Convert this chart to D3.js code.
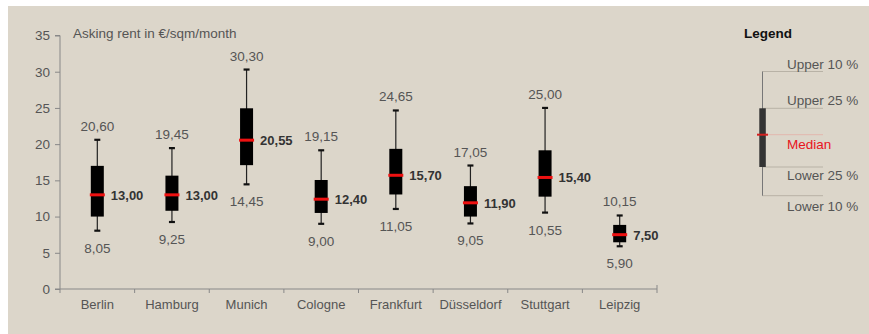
<!DOCTYPE html>
<html><head><meta charset="utf-8">
<script src="https://cdn.jsdelivr.net/npm/d3@7"></script>
<style>
html,body{margin:0;padding:0;background:#fff;}
svg{display:block;font-family:"Liberation Sans",Arial,sans-serif;}
</style></head>
<body>
<svg id="chart" width="869" height="334"></svg>
<script>
const cities = ["Berlin","Hamburg","Munich","Cologne","Frankfurt","Düsseldorf","Stuttgart","Leipzig"];
const lower10 = [8.05, 9.25, 14.45, 9.00, 11.05, 9.05, 10.55, 5.90];
const lower25 = [10.0, 10.8, 17.1, 10.5, 13.05, 10.0, 12.75, 6.45];
const medians = [13.00, 13.00, 20.55, 12.40, 15.70, 11.90, 15.40, 7.50];
const upper25 = [17.0, 15.65, 24.95, 15.05, 19.35, 14.2, 19.15, 8.85];
const upper10 = [20.60, 19.45, 30.30, 19.15, 24.65, 17.05, 25.00, 10.15];
const yTicks = [0,5,10,15,20,25,30,35];
const legendLabels = ["Upper 10 %","Upper 25 %","Median","Lower 25 %","Lower 10 %"];

const fmt = v => d3.format(".2f")(v).replace(".", ",");
const svg = d3.select("#chart");
svg.append("rect").attr("x",8).attr("y",6).attr("width",861).attr("height",328).attr("fill","#DCD6CA");

const x = d3.scaleBand().domain(cities).range([60,657]);
const y = d3.scaleLinear().domain([0,35]).range([289,35.5]);
const grey = "#555";

// y axis
const yAx = svg.append("g").attr("transform","translate(60,0)")
  .call(d3.axisLeft(y).tickValues(yTicks).tickSize(5).tickPadding(5).tickFormat(d3.format("d")));
yAx.select(".domain").attr("stroke","#888").attr("d","M-5,"+y(35)+"H0V"+y(0)+"H-5");
yAx.selectAll(".tick line").attr("stroke","#888");
yAx.selectAll(".tick text").attr("fill",grey).attr("font-size",13.5);

// x axis
const xAx = svg.append("g").attr("transform","translate(0,289)")
  .call(d3.axisBottom(x).tickSize(0).tickPadding(11));
xAx.select(".domain").attr("stroke","#888").attr("d","M60,0H657V-4");
xAx.selectAll(".tick text").attr("fill",grey).attr("font-size",13);
// boundary ticks
const bounds = cities.map(c => x(c)).concat([x.range()[1]]);
xAx.selectAll(".bnd").data(bounds).enter().append("line")
  .attr("x1",d=>d).attr("x2",d=>d).attr("y1",0).attr("y2",4).attr("stroke","#888");

svg.append("text").attr("x",73).attr("y",37.5).attr("fill",grey).attr("font-size",13.5)
  .text("Asking rent in €/sqm/month");

const bw = 13;
const g = svg.append("g");
cities.forEach((c,i) => {
  const cx = x(c) + x.bandwidth()/2;
  // whisker
  g.append("line").attr("x1",cx).attr("x2",cx).attr("y1",y(upper10[i])).attr("y2",y(lower10[i]))
    .attr("stroke","#222").attr("stroke-width",1.2);
  [upper10[i], lower10[i]].forEach(v => {
    g.append("line").attr("x1",cx-3).attr("x2",cx+3).attr("y1",y(v)).attr("y2",y(v))
      .attr("stroke","#111").attr("stroke-width",2.2);
  });
  g.append("rect").attr("x",cx-bw/2).attr("width",bw)
    .attr("y",y(upper25[i])).attr("height",y(lower25[i])-y(upper25[i])).attr("fill","#000");
  g.append("line").attr("x1",cx-bw/2-1).attr("x2",cx+bw/2+1).attr("y1",y(medians[i])).attr("y2",y(medians[i]))
    .attr("stroke","#ee1111").attr("stroke-width",3);
  g.append("text").attr("x",cx).attr("y",y(upper10[i])-9).attr("text-anchor","middle")
    .attr("fill",grey).attr("font-size",13.5).text(fmt(upper10[i]));
  g.append("text").attr("x",cx).attr("y",y(lower10[i])+22).attr("text-anchor","middle")
    .attr("fill",grey).attr("font-size",13.5).text(fmt(lower10[i]));
  g.append("text").attr("x",cx+bw/2+7).attr("y",y(medians[i])+5).attr("fill","#333")
    .attr("font-size",13).attr("font-weight","bold").text(fmt(medians[i]));
});

// legend
const lg = svg.append("g");
lg.append("text").attr("x",744).attr("y",38).attr("font-size",13.5).attr("font-weight","bold").attr("fill","#111").text("Legend");
const lys = [71.5, 108.3, 134.7, 167, 195.7];
const lx = 762.5;
lys.forEach((ly,k) => {
  lg.append("line").attr("x1",lx).attr("x2",823).attr("y1",ly).attr("y2",ly)
    .attr("stroke", k===2 ? "#e2b8ae" : "#b8b2a6").attr("stroke-width",1);
});
lg.append("line").attr("x1",lx).attr("x2",lx).attr("y1",lys[0]).attr("y2",lys[4]).attr("stroke","#777").attr("stroke-width",1);
lg.append("rect").attr("x",759.3).attr("width",6.5).attr("y",lys[1]).attr("height",lys[3]-lys[1]).attr("fill","#333");
lg.append("line").attr("x1",757).attr("x2",768).attr("y1",lys[2]).attr("y2",lys[2]).attr("stroke","#d42020").attr("stroke-width",2);
const tys = [64.5, 100.5, 144.5, 175.5, 206];
legendLabels.forEach((t,k) => {
  lg.append("text").attr("x",787).attr("y",tys[k]+4.5).attr("font-size",13.5)
    .attr("fill", k===2 ? "#e8141c" : grey).text(t);
});
</script>
</body></html>
